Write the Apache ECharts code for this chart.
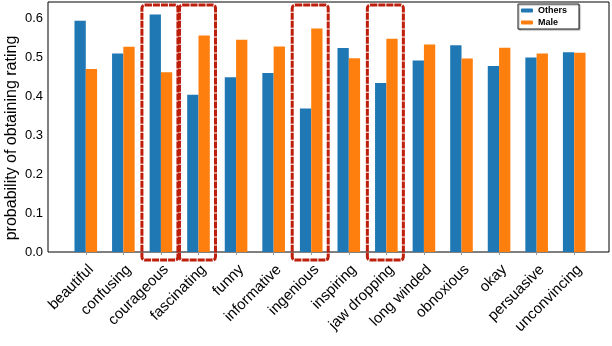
<!DOCTYPE html>
<html>
<head>
<meta charset="utf-8">
<script src="https://cdn.jsdelivr.net/npm/echarts@6/dist/echarts.min.js"></script>
<style>
  html, body { margin: 0; padding: 0; background: #fff; }
  #chart { width: 612px; height: 346px; }
</style>
</head>
<body>
<div id="chart"></div>
<script>
// ratings on the x axis
var ratings = ['beautiful', 'confusing', 'courageous', 'fascinating', 'funny', 'informative',
  'ingenious', 'inspiring', 'jaw dropping', 'long winded', 'obnoxious', 'okay', 'persuasive', 'unconvincing']
// probability per group
var othersValues = [0.593, 0.509, 0.609, 0.403, 0.448, 0.459, 0.368, 0.523, 0.433, 0.491, 0.530, 0.477, 0.499, 0.512]
var maleValues = [0.469, 0.526, 0.461, 0.555, 0.544, 0.527, 0.573, 0.497, 0.547, 0.532, 0.496, 0.524, 0.509, 0.511]
// ratings boxed in red
var highlighted = ['courageous', 'fascinating', 'ingenious', 'jaw dropping']

var yMax = 0.641
var font = 'Liberation Sans'

var myChart = echarts.init(document.getElementById('chart'))

var option = {
  animation: false,
  backgroundColor: '#fff',
  textStyle: { fontFamily: font },
  legend: {
    orient: 'vertical',
    right: 33,
    top: 4,
    itemWidth: 12,
    itemHeight: 4,
    itemGap: 3,
    padding: [2, 12, 2, 3],
    borderColor: '#222',
    borderWidth: 1,
    borderRadius: 0,
    shadowColor: 'rgba(0,0,0,0.35)',
    shadowOffsetX: 1,
    shadowOffsetY: 1,
    shadowBlur: 1,
    backgroundColor: '#fff',
    textStyle: { fontSize: 9, lineHeight: 9, fontWeight: 'bold', color: '#000', fontFamily: font },
    data: ['Others', 'Male']
  },
  grid: [
    // outer frame with the y axis
    { left: 48, right: 3, top: 2, bottom: 94, show: true, borderColor: '#000', borderWidth: 1, containLabel: false, outerBoundsMode: 'none' },
    // bar area (matplotlib leaves a margin on both ends)
    { left: 67, right: 19, top: 2, bottom: 94, containLabel: false, outerBoundsMode: 'none' }
  ],
  xAxis: [
    { gridIndex: 0, type: 'value', show: false, min: 0, max: 1 },
    {
      gridIndex: 1,
      type: 'category',
      data: ratings,
      boundaryGap: true,
      axisLine: { show: false },
      axisTick: { show: true, alignWithLabel: true, length: 3, lineStyle: { color: '#999' } },
      axisLabel: {
        rotate: 45, fontSize: 15, color: '#000', margin: 10, interval: 0, fontFamily: font,
        verticalAlign: 'top'
      }
    }
  ],
  yAxis: [
    {
      gridIndex: 0,
      type: 'value',
      min: 0,
      max: yMax,
      interval: 0.1,
      name: 'probability of obtaining rating',
      nameLocation: 'middle',
      nameGap: 28,
      nameMoveOverlap: false,
      nameTextStyle: { fontSize: 16, color: '#000', padding: [0, 22, 0, 0], fontFamily: font },
      axisLine: { show: false },
      axisTick: { show: false },
      splitLine: { show: false },
      axisLabel: {
        fontSize: 13, color: '#000', margin: 5, fontFamily: font, showMaxLabel: false,
        formatter: function (v) { return v.toFixed(1) }
      }
    },
    { gridIndex: 1, type: 'value', min: 0, max: yMax, show: false }
  ],
  series: [
    {
      name: 'Others',
      type: 'bar',
      xAxisIndex: 1,
      yAxisIndex: 1,
      barWidth: 11.3,
      barGap: '0%',
      itemStyle: { color: '#1f77b4' },
      data: othersValues
    },
    {
      name: 'Male',
      type: 'bar',
      xAxisIndex: 1,
      yAxisIndex: 1,
      barWidth: 11.3,
      barGap: '0%',
      itemStyle: { color: '#ff7f0e' },
      data: maleValues
    }
  ]
}

myChart.setOption(option)

// red annotation boxes around highlighted ratings, placed from the axes
var yTop = myChart.convertToPixel({ yAxisIndex: 1 }, yMax)
var yBottom = myChart.convertToPixel({ yAxisIndex: 1 }, 0)
var boxes = highlighted.map(function (name) {
  var cx = myChart.convertToPixel({ xAxisIndex: 1 }, name)
  return {
    type: 'rect',
    shape: { x: cx - 19, y: yTop + 3, width: 36, height: yBottom - yTop + 5, r: 3 },
    style: { fill: 'none', stroke: '#be1e0c', lineWidth: 3, lineDash: [7, 1] },
    z: 10
  }
})
myChart.setOption({ graphic: boxes })
</script>
</body>
</html>
